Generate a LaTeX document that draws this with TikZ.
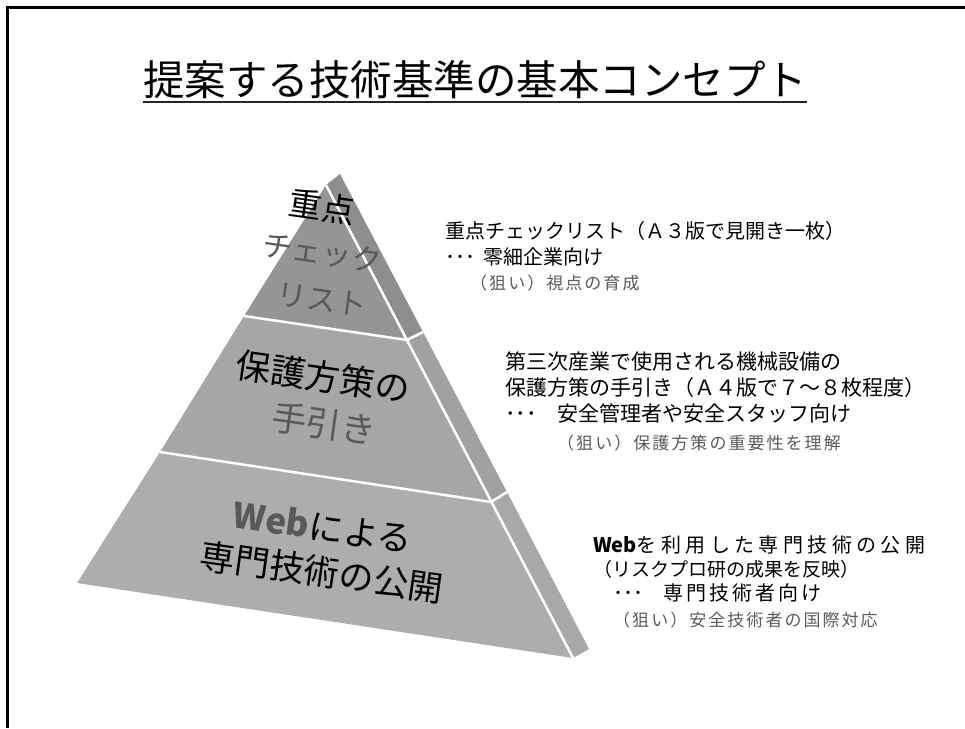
\documentclass[tikz,border=0pt]{standalone}
\usepackage{fontspec}
\newfontfamily\jp{Noto Sans CJK JP}
\newfontfamily\jpgray[LetterSpace=12]{Noto Sans CJK JP}
\newfontfamily\jpwide[LetterSpace=22]{Noto Sans CJK JP}
\newfontfamily\jpmid[LetterSpace=15]{Noto Sans CJK JP}
\definecolor{fa}{HTML}{959595}
\definecolor{sa}{HTML}{8E8E8E}
\definecolor{fb}{HTML}{A6A6A6}
\definecolor{sb}{HTML}{A1A1A1}
\definecolor{fc}{HTML}{ADADAD}
\definecolor{sc}{HTML}{A8A8A8}
\definecolor{tgray}{HTML}{595959}
\definecolor{ngray}{HTML}{5A5A5A}
\tikzset{
  frameline/.style={line width=3pt, black},
  sepline/.style={white, line width=2.5pt, line join=miter},
  ptext/.style={inner sep=0pt, rotate=-8, font=\jp\fontsize{35pt}{38pt}\selectfont},
  rtext/.style={inner sep=0pt, anchor=west, font=\jp\fontsize{20pt}{24pt}\selectfont},
  rtextb/.style={inner sep=0pt, anchor=west, font=\jp\fontsize{21pt}{25pt}\selectfont},
  ntext/.style={inner sep=0pt, anchor=west, text=ngray, font=\jpgray\fontsize{17pt}{20pt}\selectfont},
  uline/.style={line width=2pt, black!85}
}
\begin{document}
\begin{tikzpicture}[x=1pt,y=-1pt]
\useasboundingbox (0,0) rectangle (965,728);
% frame
\coordinate (f1) at (7.5,728);
\coordinate (f2) at (7.5,7.5);
\coordinate (f3) at (965,7.5);
\draw[frameline] (f1) -- (f2) -- (f3);
% title
\node[inner sep=0pt, font=\jp\fontsize{41.5pt}{46pt}\selectfont] (title) at (475,80) {提案する技術基準の基本コンセプト};
\draw[uline] ([yshift=-2.5pt]title.south west) -- ([yshift=-2.5pt]title.south east);
% pyramid coordinates
\coordinate (A) at (326,185);
\coordinate (S) at (340,174);
\coordinate (BL) at (77,583);
\coordinate (BR) at (573,658);
\coordinate (SB) at (589,649);
\coordinate (L1) at (244,316);
\coordinate (R1) at (407,340);
\coordinate (T1) at (423,332);
\coordinate (L2) at (160,452);
\coordinate (R2) at (491,502);
\coordinate (T2) at (507,492);
% faces
\fill[fa] (A) -- (R1) -- (L1) -- cycle;
\fill[fb] (L1) -- (R1) -- (R2) -- (L2) -- cycle;
\fill[fc] (L2) -- (R2) -- (BR) -- (BL) -- cycle;
\fill[sa] (A) -- (S) -- (T1) -- (R1) -- cycle;
\fill[sb] (R1) -- (T1) -- (T2) -- (R2) -- cycle;
\fill[sc] (R2) -- (T2) -- (SB) -- (BR) -- cycle;
% separators
\draw[sepline] (L1) -- (R1) -- (T1);
\draw[sepline] (L2) -- (R2) -- (T2);
\draw[sepline] (A) -- (BR);
% pyramid texts
\node[ptext, font=\jp\fontsize{33pt}{36pt}\selectfont] (p1) at (322,207) {重点};
\node[ptext, text=tgray, font=\jp\fontsize{30pt}{33pt}\selectfont] (p2) at (322,253) {チェック};
\node[ptext, text=tgray, font=\jp\fontsize{30pt}{33pt}\selectfont] (p3) at (322,300) {リスト};
\node[ptext] (p4) at (323,377) {保護方策の};
\node[ptext, text=tgray] (p5) at (324,424) {手引き};
\node[ptext] (p6) at (323,527) {{\color{tgray}\bfseries Web}による};
\node[ptext] (p7) at (322,572) {専門技術の公開};
% block 1
\node[rtext] (a1) at (445,231) {重点チェックリスト（Ａ３版で見開き一枚）};
\node[rtext] (a2) at (445,257) {･･･\hspace{8pt}零細企業向け};
\node[ntext] (a3) at (470,283) {（狙い）視点の育成};
% block 2
\node[rtextb] (b1) at (505,362) {第三次産業で使用される機械設備の};
\node[rtextb] (b2) at (505,388) {保護方策の手引き（Ａ４版で７～８枚程度）};
\node[rtextb] (b3) at (505,413) {･･･\hspace{21pt}安全管理者や安全スタッフ向け};
\node[ntext] (b4) at (557,443) {（狙い）保護方策の重要性を理解};
% block 3
\node[rtext] (c1) at (593,545) {{\jp\bfseries Web}{\jpwide を利用した専門技術の公開}};
\node[rtext, font=\jp\fontsize{19pt}{23pt}\selectfont] (c2) at (593,569) {（リスクプロ研の成果を反映）};
\node[rtext] (c3) at (613,593) {･･･\hspace{20pt}{\jpmid 専門技術者向け}};
\node[ntext] (c4) at (613,620) {（狙い）安全技術者の国際対応};
\end{tikzpicture}
\end{document}
